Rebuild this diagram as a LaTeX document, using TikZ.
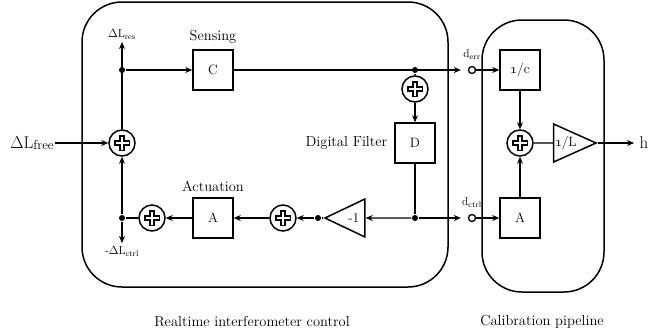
\documentclass[tikz,border=0pt]{standalone}
\usetikzlibrary{arrows.meta,positioning,shapes.geometric}

\newcommand{\lblsize}{\fontsize{14.5}{17}\selectfont}
\newcommand{\boxsize}{\fontsize{13.5}{16}\selectfont}
\newcommand{\sigsize}{\fontsize{11.5}{13}\selectfont}

\begin{document}
\begin{tikzpicture}[
  x=1pt, y=-1pt,
  line width=1.3pt,
  >={Stealth[length=7pt,width=6pt]},
  frame/.style={draw, line width=1.5pt, rounded corners=40pt},
  block/.style={draw, line width=1.5pt, minimum width=40pt, minimum height=40pt, inner sep=0pt, font=\boxsize},
  gain/.style={isosceles triangle, isosceles triangle stretches, draw, line width=1.5pt, minimum width=38pt, minimum height=40pt, inner sep=1pt, font=\boxsize},
  sum/.style={circle, draw, line width=1.5pt, minimum size=26pt, inner sep=0pt,
    path picture={
      \draw[line width=6.5pt] (path picture bounding box.center) ++(-8,0) -- ++(16,0)
        (path picture bounding box.center) ++(0,-8) -- ++(0,16);
      \draw[line width=2.6pt, white] (path picture bounding box.center) ++(-6.5,0) -- ++(13,0)
        (path picture bounding box.center) ++(0,-6.5) -- ++(0,13);
    }},
  dot/.style={circle, fill, inner sep=0pt, minimum size=6pt},
  port/.style={circle, draw, line width=1.3pt, fill=white, inner sep=0pt, minimum size=7pt},
  lbl/.style={font=\lblsize},
  sig/.style={font=\sigsize, inner sep=1pt}
]
  \useasboundingbox (0,0) rectangle (656,333);

  % Frames
  \draw[frame] (82,2) rectangle (448,287);
  \draw[frame] (482,20) rectangle (604,292);
  \node[lbl] at (252,322) {Realtime interferometer control};
  \node[lbl] at (542,322) {Calibration pipeline};

  % Loop blocks
  \node[sum] (sumIn) at (122,143) {};
  \node[dot] (split) at (122,70) {};
  \coordinate (resEnd) at (122,42);
  \node[block] (sens) at (213,70) {C};
  \node[lbl, above=2pt of sens] {Sensing};
  \node[dot] (errDot) at (415,70) {};
  \node[sum] (sumFilt) at (415,89) {};
  \node[block] (filt) at (415,143) {D};
  \node[lbl, left=3pt of filt] {Digital Filter};
  \node[dot] (filtDot) at (415,218) {};
  \node[gain, shape border rotate=180, anchor=apex] (inv) at (323,218) {-1};
  \node[dot] (invDot) at (318,218) {};
  \node[sum] (sumInj) at (283,218) {};
  \node[block] (act) at (213,218) {A};
  \node[lbl, above=2pt of act] {Actuation};
  \node[sum] (sumAct) at (152,218) {};
  \node[dot] (ctrlDot) at (122,218) {};
  \coordinate (ctrlEnd) at (122,243);

  % Signal labels
  \node[font=\fontsize{17}{20}\selectfont, inner sep=1pt] (free) at (32,143) {$\Delta$L{\fontsize{13}{15}\selectfont\raisebox{-0.25ex}{free}}};
  \node[sig, above=1pt of resEnd] {$\Delta$L\textsubscript{res}};
  \node[sig, below=2pt of ctrlEnd] {-$\Delta$L\textsubscript{ctrl}};

  % Output ports
  \node[port] (errPort) at (472,70) {};
  \node[sig, above=5pt of errPort] {d\textsubscript{err}};
  \node[port] (ctrlPort) at (472,218) {};
  \node[sig, above=5pt of ctrlPort] {d\textsubscript{ctrl}};

  % Calibration blocks
  \node[block] (invC) at (520,70) {\oldstylenums{1}/c};
  \node[sum] (sumCal) at (520,143) {};
  \node[block] (calA) at (520,218) {A};
  \node[gain, anchor=apex] (calGain) at (598,143) {\oldstylenums{1}/L};
  \coordinate (hEnd) at (634,143);
  \node[font=\fontsize{17}{20}\selectfont, anchor=west, inner sep=1pt] (hOut) at (638,143) {h};

  % Connectors
  \draw[->] (free) -- (sumIn);
  \draw[->] (sumIn) -- (resEnd);
  \draw[->] (split) -- (sens);
  \draw[->, shorten >=7pt] (sens) -- (errPort);
  \draw (errDot) -- (sumFilt);
  \draw[->] (sumFilt) -- (filt);
  \draw (filt) -- (filtDot);
  \draw[->, shorten >=7pt] (filtDot) -- (ctrlPort);
  \draw[->] (filtDot) -- (inv);
  \draw (inv.apex) -- (invDot);
  \draw[->] (invDot) -- (sumInj);
  \draw[->] (sumInj) -- (act);
  \draw[->] (act) -- (sumAct);
  \draw (sumAct) -- (ctrlDot);
  \draw[->] (ctrlDot) -- (sumIn);
  \draw[->] (ctrlDot) -- (ctrlEnd);
  \draw[->] (errPort) -- (invC);
  \draw[->] (ctrlPort) -- (calA);
  \draw[->] (invC) -- (sumCal);
  \draw[->] (calA) -- (sumCal);
  \draw (sumCal) -- (calGain);
  \draw[->] (calGain.apex) -- (hEnd);
\end{tikzpicture}
\end{document}
